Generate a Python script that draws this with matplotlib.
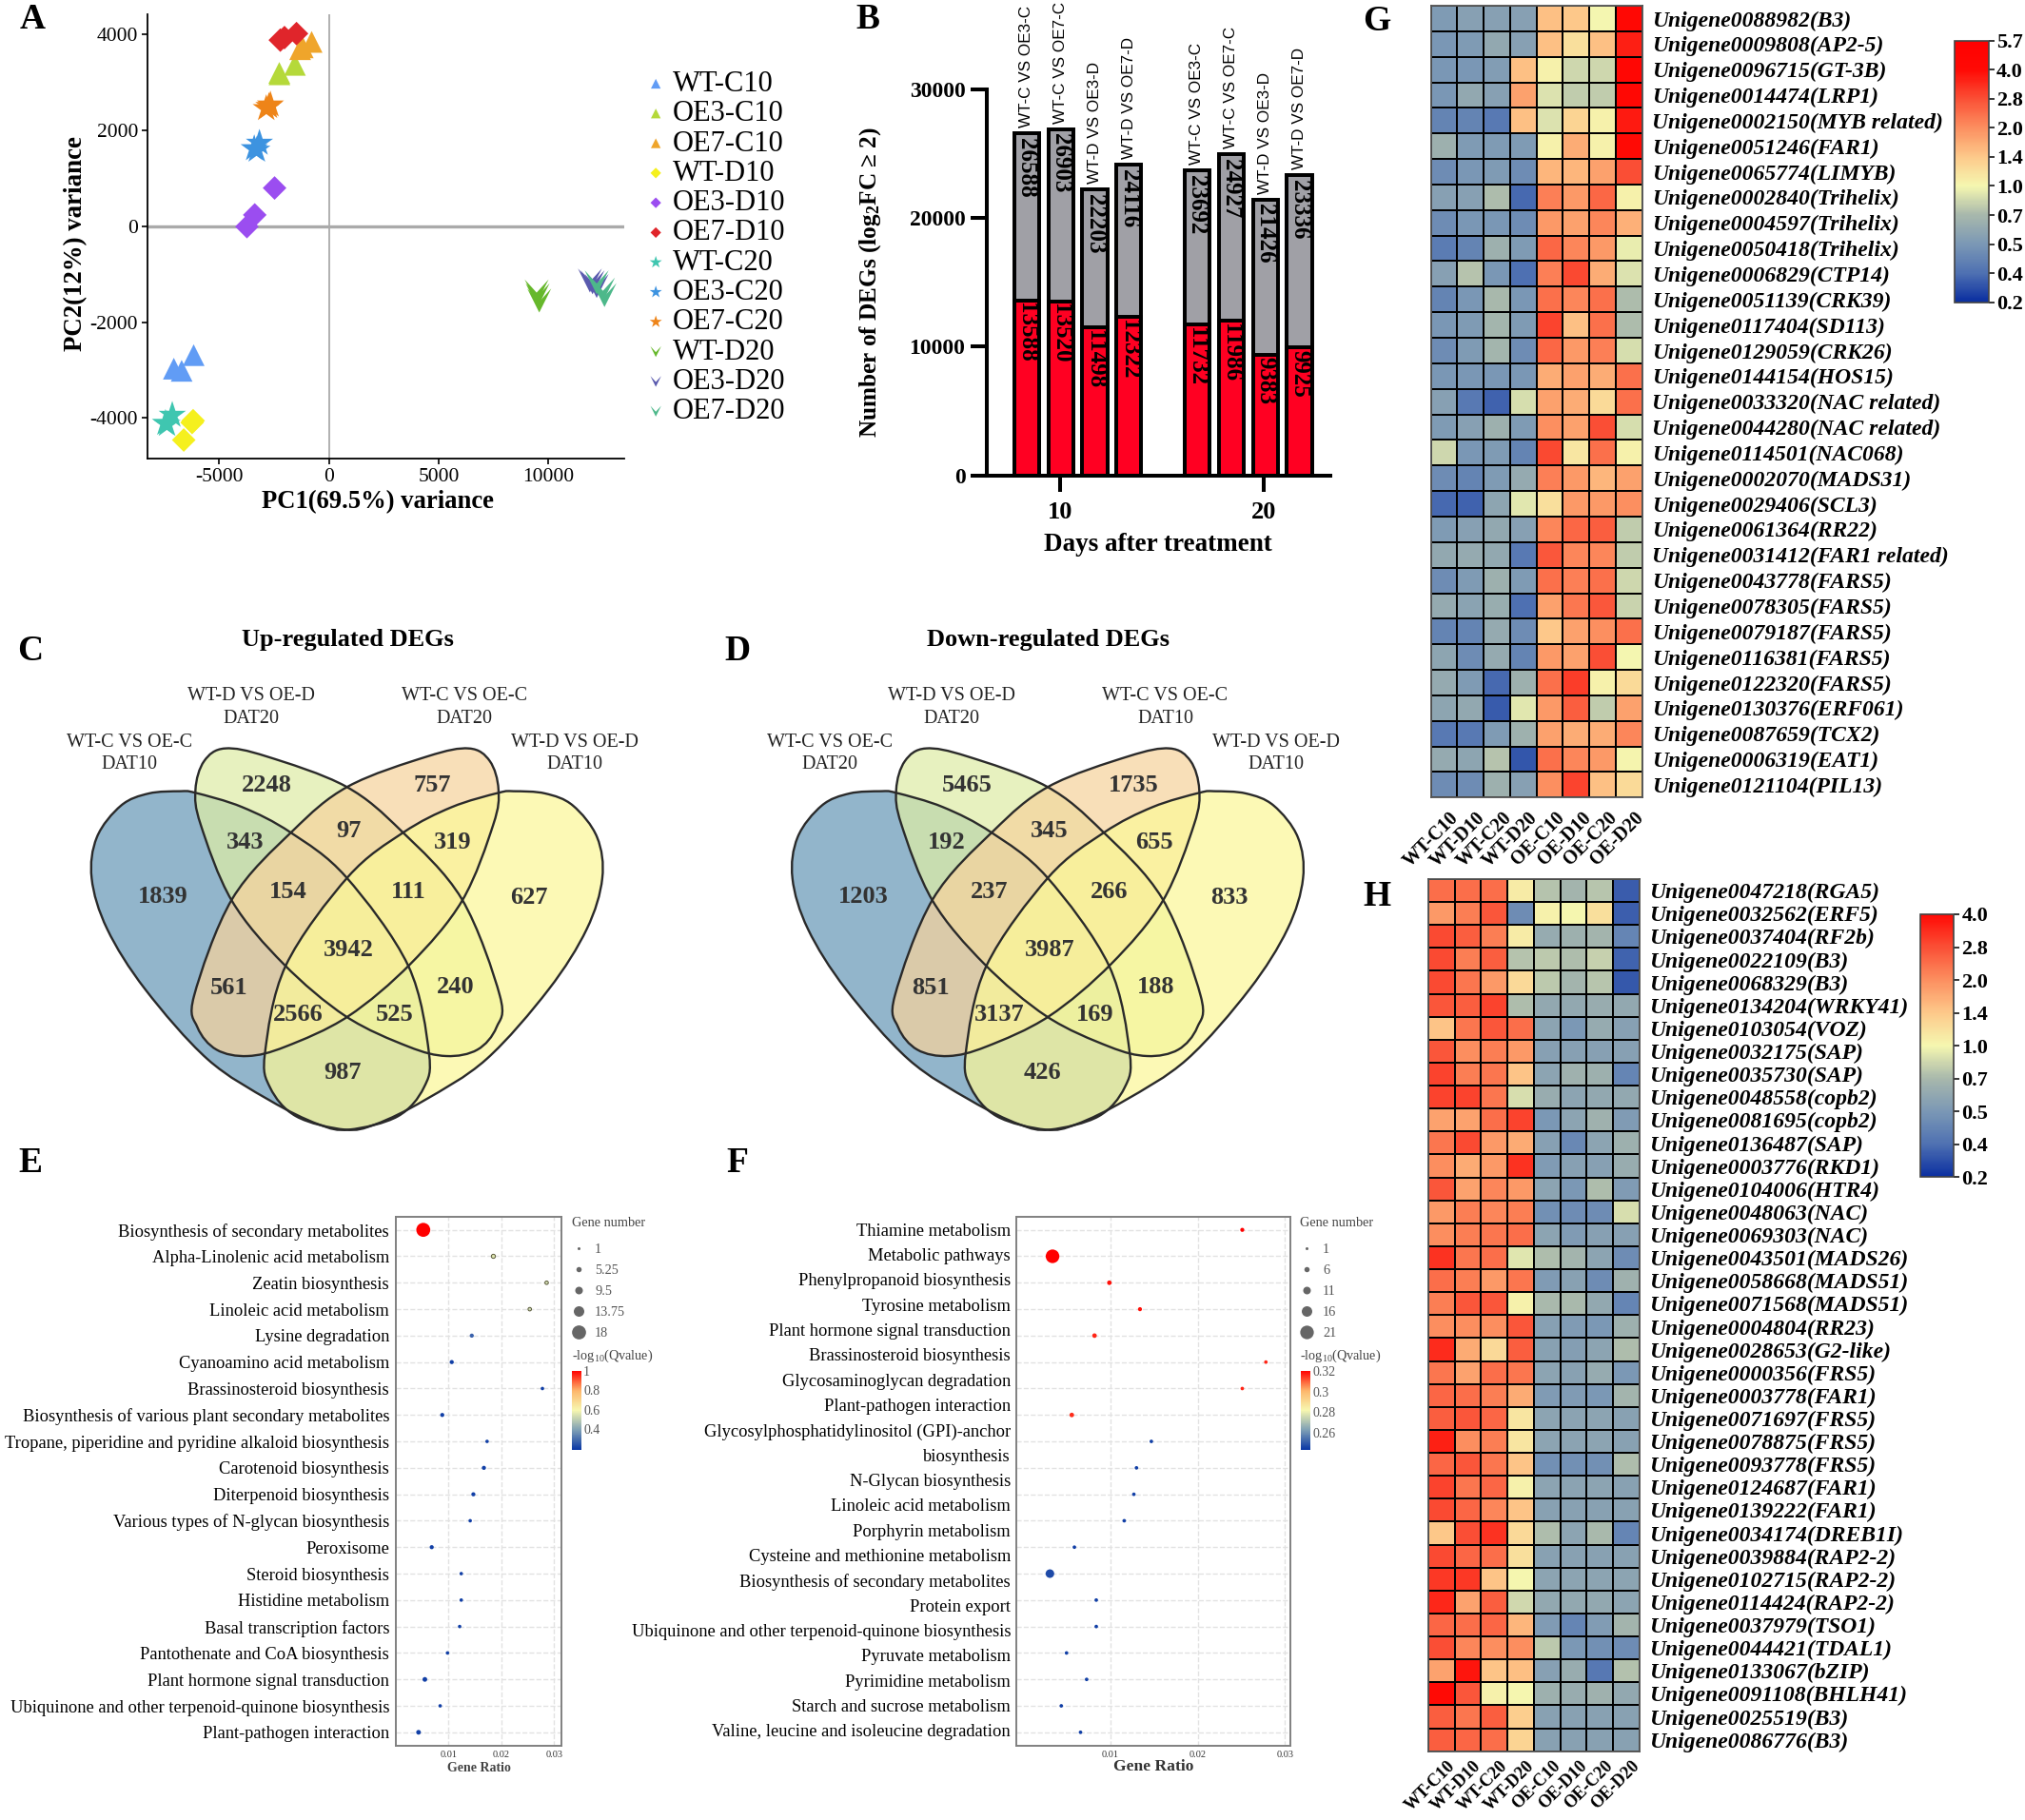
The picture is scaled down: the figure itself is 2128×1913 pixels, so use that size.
#!/usr/bin/env python3
# Multi-panel figure: PCA, DEG bars, Venn diagrams, KEGG bubbles, heatmaps

import numpy as np
import matplotlib
matplotlib.use("Agg")
import matplotlib.pyplot as plt
from matplotlib.colors import LinearSegmentedColormap, FuncNorm, Normalize
from matplotlib.cm import ScalarMappable
from matplotlib.lines import Line2D
from matplotlib.path import Path
from matplotlib.patches import PathPatch

plt.rcParams['font.family'] = ['Liberation Serif', 'DejaVu Sans']
plt.rcParams['mathtext.fontset'] = 'custom'
plt.rcParams['mathtext.rm'] = 'Liberation Serif'
plt.rcParams['mathtext.it'] = 'Liberation Serif:italic'
plt.rcParams['mathtext.bf'] = 'Liberation Serif:bold'
plt.rcParams['axes.unicode_minus'] = False

W, H = 2128, 1913

############################################
# Data
############################################

# Panel A, PCA
pca_names = ['WT-C10', 'OE3-C10', 'OE7-C10', 'WT-D10', 'OE3-D10', 'OE7-D10',
             'WT-C20', 'OE3-C20', 'OE7-C20', 'WT-D20', 'OE3-D20', 'OE7-D20']
pca_x = [[-6154, -7057, -6700], [-1544, -2257, -2250], [-784, -1307, -1188],
         [-6178, -6605, -6225], [-2471, -3374, -3730], [-1473, -2020, -2210],
         [-7128, -7437, -7366], [-3160, -3398, -3279], [-2661, -2851, -2730],
         [9456, 9575, 9500], [11880, 12189, 12000], [12189, 12545, 12474]]
pca_y = [[-2690, -2972, -3017], [3367, 3200, 3170], [3846, 3694, 3732],
         [-4058, -4461, -4096], [798, 236, -8], [4020, 3937, 3884],
         [-3944, -4112, -4134], [1733, 1619, 1588], [2531, 2455, 2500],
         [-1360, -1550, -1440], [-1132, -1246, -1170], [-1170, -1436, -1322]]

# Panel B, DEG counts
deg_labels = ['WT-C VS OE3-C', 'WT-C VS OE7-C', 'WT-D VS OE3-D', 'WT-D VS OE7-D'] * 2
deg_total = [26588, 26903, 22203, 24116, 23692, 24927, 21426, 23336]
deg_up = [13588, 13520, 11498, 12322, 11732, 11986, 9383, 9925]

# Panels C and D, Venn counts, region order is the same in both
venn_up = [2248, 757, 343, 97, 319, 1839, 154, 111, 627, 3942, 561, 240, 2566, 525, 987]
venn_down = [5465, 1735, 192, 345, 655, 1203, 237, 266, 833, 3987, 851, 188, 3137, 169, 426]

# Panel E, KEGG bubbles
e_terms = ['Biosynthesis of secondary metabolites', 'Alpha-Linolenic acid metabolism',
           'Zeatin biosynthesis', 'Linoleic acid metabolism', 'Lysine degradation',
           'Cyanoamino acid metabolism', 'Brassinosteroid biosynthesis',
           'Biosynthesis of various plant secondary metabolites',
           'Tropane, piperidine and pyridine alkaloid biosynthesis',
           'Carotenoid biosynthesis', 'Diterpenoid biosynthesis',
           'Various types of N-glycan biosynthesis', 'Peroxisome', 'Steroid biosynthesis',
           'Histidine metabolism', 'Basal transcription factors',
           'Pantothenate and CoA biosynthesis', 'Plant hormone signal transduction',
           'Ubiquinone and other terpenoid-quinone biosynthesis', 'Plant-pathogen interaction']
e_ratio = [0.0052, 0.0185, 0.0286, 0.0254, 0.0144, 0.0106, 0.0278, 0.0088, 0.0173, 0.0167,
           0.0147, 0.0141, 0.0068, 0.0124, 0.0124, 0.0121, 0.0098, 0.0055, 0.0084, 0.0043]
e_count = [18, 2, 1, 1, 2, 2, 1, 2, 1, 2, 2, 1, 2, 1, 1, 1, 1, 3, 1, 3]
e_q = [1.0, 0.55, 0.53, 0.52, 0.27, 0.2, 0.2, 0.2, 0.2, 0.2,
       0.2, 0.2, 0.2, 0.2, 0.2, 0.2, 0.2, 0.2, 0.2, 0.2]
e_size_keys = ['1', '5.25', '9.5', '13.75', '18']
e_q_ticks = [0.4, 0.6, 0.8, 1.0]
e_q_ticklabels = ['0.4', '0.6', '0.8', '1']

# Panel F, KEGG bubbles
f_rows = ['Thiamine metabolism', 'Metabolic pathways', 'Phenylpropanoid biosynthesis',
          'Tyrosine metabolism', 'Plant hormone signal transduction',
          'Brassinosteroid biosynthesis', 'Glycosaminoglycan degradation',
          'Plant-pathogen interaction', 'Glycosylphosphatidylinositol (GPI)-anchor',
          'biosynthesis', 'N-Glycan biosynthesis', 'Linoleic acid metabolism',
          'Porphyrin metabolism', 'Cysteine and methionine metabolism',
          'Biosynthesis of secondary metabolites', 'Protein export',
          'Ubiquinone and other terpenoid-quinone biosynthesis', 'Pyruvate metabolism',
          'Pyrimidine metabolism', 'Starch and sucrose metabolism',
          'Valine, leucine and isoleucine degradation']
f_ratio = [0.0251, 0.0034, 0.0099, 0.0134, 0.0082, 0.0278, 0.0251, 0.0056, 0.0147, 0.0130,
           0.0127, 0.0116, 0.0059, 0.0031, 0.0084, 0.0084, 0.0050, 0.0073, 0.0044, 0.0066]
f_count = [2, 21, 3, 2, 3, 1, 1, 3, 1, 1, 1, 1, 1, 11, 1, 1, 1, 1, 1, 1]
f_q = [0.32, 0.32, 0.318, 0.318, 0.316, 0.316, 0.316, 0.315, 0.245, 0.245,
       0.245, 0.245, 0.245, 0.247, 0.245, 0.245, 0.245, 0.245, 0.245, 0.245]
f_size_keys = ['1', '6', '11', '16', '21']
f_q_ticks = [0.26, 0.28, 0.30, 0.32]
f_q_ticklabels = ['0.26', '0.28', '0.3', '0.32']

# Panels G and H, heatmaps
heat_cols_g = ['WT-C10', 'WT-D10', 'WT-C20', 'WT-D20', 'OE-C10', 'OE-D10', 'OE-C20', 'OE-D20']
heat_cols_h = heat_cols_g
g_genes = ['Unigene0088982(B3)', 'Unigene0009808(AP2-5)', 'Unigene0096715(GT-3B)',
           'Unigene0014474(LRP1)', 'Unigene0002150(MYB related)', 'Unigene0051246(FAR1)',
           'Unigene0065774(LIMYB)', 'Unigene0002840(Trihelix)', 'Unigene0004597(Trihelix)',
           'Unigene0050418(Trihelix)', 'Unigene0006829(CTP14)', 'Unigene0051139(CRK39)',
           'Unigene0117404(SD113)', 'Unigene0129059(CRK26)', 'Unigene0144154(HOS15)',
           'Unigene0033320(NAC related)', 'Unigene0044280(NAC related)', 'Unigene0114501(NAC068)',
           'Unigene0002070(MADS31)', 'Unigene0029406(SCL3)', 'Unigene0061364(RR22)',
           'Unigene0031412(FAR1 related)', 'Unigene0043778(FARS5)', 'Unigene0078305(FARS5)',
           'Unigene0079187(FARS5)', 'Unigene0116381(FARS5)', 'Unigene0122320(FARS5)',
           'Unigene0130376(ERF061)', 'Unigene0087659(TCX2)', 'Unigene0006319(EAT1)',
           'Unigene0121104(PIL13)']
g_values = [
    [.52, .55, .55, .55, 1.5, 1.4, 1.0, 4.3],
    [.50, .52, .60, .55, 1.5, 1.2, 1.5, 3.6],
    [.50, .50, .53, 1.5, 1.05, .85, .85, 4.5],
    [.50, .60, .55, 1.8, .90, .80, .80, 4.3],
    [.45, .45, .42, 1.5, .90, 1.3, 1.05, 3.7],
    [.65, .52, .52, .52, 1.05, 1.7, 1.05, 4.0],
    [.47, .50, .52, .47, 1.6, 1.6, 1.8, 2.8],
    [.55, .55, .72, .38, 2.2, 1.9, 2.5, 1.05],
    [.47, .50, .50, .47, 1.9, 1.8, 2.1, 1.65],
    [.43, .45, .65, .52, 2.5, 2.1, 1.9, .95],
    [.55, .75, .50, .40, 2.2, 2.9, 1.7, .90],
    [.45, .50, .70, .50, 2.4, 2.1, 2.4, .72],
    [.50, .52, .68, .52, 3.0, 1.5, 2.4, .72],
    [.47, .52, .68, .47, 2.5, 1.9, 2.2, .88],
    [.50, .50, .50, .50, 1.7, 1.8, 1.7, 2.4],
    [.55, .42, .36, .88, 1.8, 1.7, 1.25, 2.4],
    [.52, .55, .65, .52, 2.0, 1.8, 2.8, .88],
    [.85, .50, .52, .45, 2.9, 1.15, 2.4, 1.05],
    [.47, .45, .52, .62, 2.2, 1.9, 1.6, 1.8],
    [.38, .36, .58, .92, 1.2, 1.9, 1.9, 2.0],
    [.52, .55, .60, .55, 2.1, 2.5, 2.6, .80],
    [.60, .62, .60, .42, 2.7, 2.1, 2.1, .80],
    [.47, .52, .65, .52, 2.4, 2.2, 2.4, .85],
    [.62, .57, .63, .40, 1.8, 2.3, 2.7, .83],
    [.45, .45, .62, .47, 1.4, 1.8, 2.0, 2.4],
    [.58, .47, .62, .45, 1.9, 1.8, 2.8, 1.0],
    [.62, .52, .38, .65, 2.4, 3.1, 1.05, 1.25],
    [.58, .60, .34, .92, 1.9, 2.6, .80, 1.8],
    [.42, .42, .52, .66, 1.8, 1.7, 1.7, 2.1],
    [.62, .58, .75, .32, 2.4, 2.1, 1.9, 1.03],
    [.47, .47, .65, .55, 2.0, 3.0, 1.5, 1.25],
]
h_genes = ['Unigene0047218(RGA5)', 'Unigene0032562(ERF5)', 'Unigene0037404(RF2b)',
           'Unigene0022109(B3)', 'Unigene0068329(B3)', 'Unigene0134204(WRKY41)',
           'Unigene0103054(VOZ)', 'Unigene0032175(SAP)', 'Unigene0035730(SAP)',
           'Unigene0048558(copb2)', 'Unigene0081695(copb2)', 'Unigene0136487(SAP)',
           'Unigene0003776(RKD1)', 'Unigene0104006(HTR4)', 'Unigene0048063(NAC)',
           'Unigene0069303(NAC)', 'Unigene0043501(MADS26)', 'Unigene0058668(MADS51)',
           'Unigene0071568(MADS51)', 'Unigene0004804(RR23)', 'Unigene0028653(G2-like)',
           'Unigene0000356(FRS5)', 'Unigene0003778(FAR1)', 'Unigene0071697(FRS5)',
           'Unigene0078875(FRS5)', 'Unigene0093778(FRS5)', 'Unigene0124687(FAR1)',
           'Unigene0139222(FAR1)', 'Unigene0034174(DREB1I)', 'Unigene0039884(RAP2-2)',
           'Unigene0102715(RAP2-2)', 'Unigene0114424(RAP2-2)', 'Unigene0037979(TSO1)',
           'Unigene0044421(TDAL1)', 'Unigene0133067(bZIP)', 'Unigene0091108(BHLH41)',
           'Unigene0025519(B3)', 'Unigene0086776(B3)']
h_values = [
    [2.4, 2.4, 2.4, 1.1, .75, .68, .76, .34],
    [1.9, 2.2, 2.7, .47, 1.05, 1.0, 1.2, .35],
    [2.9, 2.6, 2.2, 1.1, .62, .65, .68, .45],
    [2.9, 2.2, 2.6, .75, .78, .72, .82, .36],
    [2.9, 2.3, 1.9, 1.25, .78, .68, .76, .33],
    [2.7, 2.6, 3.0, .72, .60, .60, .63, .60],
    [1.45, 2.3, 2.7, 2.4, .58, .50, .62, .55],
    [2.7, 2.0, 2.2, 1.9, .55, .55, .55, .55],
    [3.0, 2.2, 2.3, 1.45, .58, .66, .65, .45],
    [3.0, 3.0, 2.3, .88, .63, .58, .60, .60],
    [1.8, 1.8, 2.4, 3.0, .50, .58, .66, .52],
    [2.3, 2.9, 1.9, 1.7, .55, .46, .58, .65],
    [2.0, 1.7, 1.9, 3.3, .52, .55, .55, .63],
    [2.7, 1.8, 2.1, 1.9, .58, .50, .72, .52],
    [1.9, 2.2, 2.1, 2.2, .48, .47, .47, .88],
    [2.0, 2.2, 2.3, 2.4, .58, .52, .55, .55],
    [3.3, 2.3, 2.4, .92, .72, .68, .58, .47],
    [2.4, 2.2, 1.9, 2.3, .52, .56, .47, .66],
    [2.2, 2.7, 2.7, 1.05, .70, .70, .60, .45],
    [2.0, 2.0, 2.0, 2.7, .55, .52, .50, .65],
    [3.4, 1.7, 1.25, 2.6, .56, .54, .58, .72],
    [2.3, 1.8, 2.4, 2.3, .58, .56, .62, .50],
    [2.5, 2.4, 2.2, 1.7, .52, .52, .50, .68],
    [2.6, 2.7, 2.5, 1.15, .58, .57, .58, .56],
    [3.6, 2.0, 2.2, 1.15, .58, .57, .58, .56],
    [2.5, 2.7, 2.3, 1.45, .48, .48, .48, .72],
    [3.0, 2.3, 2.5, 1.05, .58, .57, .58, .56],
    [2.9, 2.5, 2.1, 1.45, .56, .56, .56, .56],
    [1.4, 2.8, 3.3, 1.25, .72, .58, .70, .45],
    [2.9, 2.5, 2.4, 1.2, .56, .56, .56, .56],
    [3.2, 3.2, 1.45, 1.0, .58, .58, .58, .58],
    [3.5, 1.8, 2.6, .85, .60, .60, .60, .58],
    [2.5, 2.4, 2.5, 1.6, .52, .45, .53, .68],
    [2.8, 2.1, 2.0, 2.0, .78, .50, .48, .47],
    [1.8, 3.8, 1.45, 1.5, .55, .63, .42, .74],
    [4.0, 2.7, 1.05, 1.0, .65, .63, .66, .60],
    [2.6, 2.3, 2.6, 1.35, .56, .56, .56, .56],
    [2.6, 2.5, 2.4, 1.3, .56, .56, .56, .56],
]
g_ticks = [0.2, 0.4, 0.5, 0.7, 1.0, 1.4, 2.0, 2.8, 4.0, 5.7]
h_ticks = [0.2, 0.4, 0.5, 0.7, 1.0, 1.4, 2.0, 2.8, 4.0]

############################################
# Layout helpers, all in pixels of the final image
############################################
fig = plt.figure(figsize=(W / 100, H / 100), dpi=100)


def add_box(left, top, right, bottom):
    return fig.add_axes([left / W, 1 - bottom / H, (right - left) / W, (bottom - top) / H])


def fig_xy(x, y):
    return (x / W, 1 - y / H)


# Overlay for panel letters, Venn diagrams and loose text
ov = fig.add_axes([0, 0, 1, 1], zorder=5)
ov.set_xlim(0, W)
ov.set_ylim(H, 0)
ov.axis('off')
ov.patch.set_alpha(0)

for letter, lx, ly in [('A', 34, 20), ('B', 912, 20), ('G', 1447, 23), ('C', 32, 684),
                       ('D', 775, 684), ('E', 32, 1222), ('F', 775, 1222), ('H', 1447, 942)]:
    ov.text(lx, ly, letter, fontsize=27, fontweight='bold', ha='center', va='center')

############################################
# A, PCA scatter
############################################
ax_a = add_box(154.7, 15, 655.5, 482)
chevron = Path([(-1, 1), (0, -1), (1, 1), (0, -0.1), (-1, 1)], closed=True)
pca_colors = ['#619CF5', '#B5D93A', '#EFA52B', '#F5F01E', '#9B4DF0', '#E0252B',
              '#3FC6B0', '#3D93E0', '#EE8418', '#66B82B', '#5A5AAE', '#4DB88A']
pca_markers = ['^'] * 3 + ['D'] * 3 + ['*'] * 3 + [chevron] * 3
pca_sizes = [270] * 3 + [160] * 3 + [470] * 3 + [330] * 3
ax_a.axhline(0, color='#aaaaaa', lw=2.4, zorder=1)
ax_a.axvline(0, color='#aaaaaa', lw=1.3, zorder=1)
for i, name in enumerate(pca_names):
    ax_a.scatter(pca_x[i], pca_y[i], marker=pca_markers[i], s=pca_sizes[i], c=pca_colors[i],
                 edgecolors='none', label=name, zorder=3)
ax_a.set_xlim(-8268, 13422)
ax_a.set_ylim(-4848, 4423)
ax_a.set_xticks([-5000, 0, 5000, 10000])
ax_a.set_yticks([-4000, -2000, 0, 2000, 4000])
ax_a.tick_params(labelsize=15.5, length=4, width=1.2, pad=3)
for side in ['top', 'right']:
    ax_a.spines[side].set_visible(False)
for side in ['left', 'bottom']:
    ax_a.spines[side].set_linewidth(1.3)
ax_a.set_xlabel('PC1(69.5%) variance', fontsize=19.2, fontweight='bold', labelpad=1)
ax_a.xaxis.set_label_coords(0.484, -0.07)
ax_a.set_ylabel('PC2(12%) variance', fontsize=19.4, fontweight='bold', labelpad=2, y=0.483)
ax_a.legend(loc='upper left', bbox_to_anchor=fig_xy(680, 74), bbox_transform=fig.transFigure,
            frameon=False, fontsize=22, markerscale=0.45, labelspacing=0.075,
            handlelength=0.6, handletextpad=0.28, borderpad=0, borderaxespad=0)

############################################
# B, stacked DEG bars
############################################
ax_b = add_box(1036.6, 93.7, 1397.7, 499.6)
bar_x = [0, 1, 2, 3, 5, 6, 7, 8]
ax_b.bar(bar_x, deg_total, width=0.73, color='#a0a0a6', edgecolor='black', lw=2.85)
ax_b.bar(bar_x, deg_up, width=0.73, color='#ff0022', edgecolor='black', lw=2.85)
for x, label, tot, up in zip(bar_x, deg_labels, deg_total, deg_up):
    ax_b.text(x, tot + 450, label, rotation=90, ha='center', va='bottom',
              fontsize=12.3, family='Liberation Sans')
    ax_b.text(x, tot - 350, str(tot), rotation=270, ha='center', va='top',
              fontsize=18, fontweight='bold')
    ax_b.text(x, up - 200, str(up), rotation=270, ha='center', va='top',
              fontsize=18, fontweight='bold')
ax_b.set_xlim(-1.18, 8.9)
ax_b.set_ylim(0, 30000)
ax_b.set_yticks([0, 10000, 20000, 30000])
ax_b.set_xticks([0.97, 6.95])
ax_b.set_xticklabels(['10', '20'])
ax_b.tick_params(length=12, width=2.9, labelsize=17, pad=4)
for lab in ax_b.get_xticklabels() + ax_b.get_yticklabels():
    lab.set_fontweight('bold')
ax_b.tick_params(axis='x', labelsize=19, pad=8)
for side in ['top', 'right']:
    ax_b.spines[side].set_visible(False)
for side in ['left', 'bottom']:
    ax_b.spines[side].set_linewidth(2.9)
ax_b.set_xlabel('Days after treatment', fontsize=19.5, fontweight='bold')
ax_b.xaxis.set_label_coords(0.5, -0.15)
ax_b.set_ylabel(r'Number of DEGs (log$_{\mathbf{2}}$FC ≥ 2)', fontsize=18.2, fontweight='bold')
ax_b.yaxis.set_label_coords(-0.3, 0.5)

############################################
# C and D, Venn diagrams
############################################
ZX, ZY = 2.178, 2.8
# Outlines are in their own crop scale, the mirror axis gives the other two lobes
venn_blue = [(300, 155), (345, 160), (480, 205), (620, 285), (780, 425), (960, 705), (1020, 980),
             (1005, 1090), (930, 1180), (790, 1222), (700, 1205), (560, 1130), (380, 1000),
             (200, 780), (90, 590), (45, 430), (60, 300), (130, 200), (210, 162)]
venn_green = [(430, 20), (550, 45), (780, 140), (940, 280), (1115, 495), (1225, 800), (1215, 900),
              (1160, 970), (1070, 990), (960, 960), (780, 865), (600, 700), (450, 500),
              (360, 260), (345, 150), (370, 60)]
venn_fill = [(146 / 255, 181 / 255, 203 / 255, 1.0), (222 / 255, 237 / 255, 167 / 255, 0.725),
             (246 / 255, 211 / 255, 157 / 255, 0.725), (252 / 255, 248 / 255, 153 / 255, 0.725)]
venn_number_pos = [(610, 520), (990, 520), (562, 688), (798, 655), (1037, 688), (372, 847),
                   (660, 832), (935, 832), (1210, 850), (798, 1005), (525, 1115), (1042, 1112),
                   (683, 1195), (903, 1195), (783, 1365)]


def closed_curve(points):
    # Catmull-Rom through the points, written out as cubic Beziers
    p = np.array(points, dtype=float)
    n = len(p)
    verts = [p[0]]
    codes = [Path.MOVETO]
    for i in range(n):
        p0, p1, p2, p3 = p[i - 1], p[i], p[(i + 1) % n], p[(i + 2) % n]
        verts += [p1 + (p2 - p0) / 6, p2 - (p3 - p1) / 6, p2]
        codes += [Path.CURVE4] * 3
    return Path(verts, codes)


def draw_venn(x0, counts, title, labels):
    to_px = lambda pts: [(x0 + a / ZX, 640 + b / ZY) for a, b in pts]
    shape_px = lambda pts: [(x0 + 80 + a / 2.751, 780 + b / 3) for a, b in pts]
    mirror = lambda pts: [(1566 - a, b) for a, b in pts]
    shapes = [venn_blue, venn_green, mirror(venn_green), mirror(venn_blue)]
    for pts, col in zip(shapes, venn_fill):
        ov.add_patch(PathPatch(closed_curve(shape_px(pts)), facecolor=col, edgecolor='none'))
    for pts in shapes:
        ov.add_patch(PathPatch(closed_curve(shape_px(pts)), facecolor='none',
                               edgecolor='#2a2a2a', lw=1.7))
    for (a, b), val in zip(to_px(venn_number_pos), counts):
        ov.text(a, b, str(val), fontsize=19, fontweight='bold', color='#333333',
                ha='center', va='center')
    ov.text(x0 + 795 / ZX, 640 + 90 / ZY, title, fontsize=19, fontweight='bold',
            ha='center', va='center')
    for (a, b), txt in zip(to_px([(296, 425), (575, 290), (1063, 290), (1316, 425)]), labels):
        ov.text(a, b, txt, fontsize=14.5, ha='center', va='center', color='#222222',
                linespacing=1.32)


draw_venn(0, venn_up, 'Up-regulated DEGs',
          ['WT-C VS OE-C\nDAT10', 'WT-D VS OE-D\nDAT20', 'WT-C VS OE-C\nDAT20', 'WT-D VS OE-D\nDAT10'])
draw_venn(736.4, venn_down, 'Down-regulated DEGs',
          ['WT-C VS OE-C\nDAT20', 'WT-D VS OE-D\nDAT20', 'WT-C VS OE-C\nDAT10', 'WT-D VS OE-D\nDAT10'])

############################################
# E and F, bubble plots
############################################
q_cmap = LinearSegmentedColormap.from_list(
    'q', ['#0a38a5', '#7fa0b5', '#f7f7b0', '#fdb56a', '#ff0000'])


def bubble(box, ratio, count, q, q_lim, xlim, d0, d1):
    ax = add_box(*box)
    ypos = np.arange(len(ratio))
    sizes = [((d0 + d1 * c) * 0.72) ** 2 for c in count]
    norm = Normalize(*q_lim)
    mid = [q_lim[0] + 0.3 * (q_lim[1] - q_lim[0]) < v < q_lim[0] + 0.7 * (q_lim[1] - q_lim[0]) for v in q]
    edges = ['#5a5a3a' if m else 'none' for m in mid]
    ax.scatter(ratio, ypos, s=sizes, c=q, cmap=q_cmap, norm=norm, edgecolors=edges,
               linewidths=0.7, zorder=3)
    ax.set_xlim(*xlim)
    ax.set_ylim(len(ratio) - 0.5, -0.5)
    ax.set_xticks([0.01, 0.02, 0.03])
    ax.set_xticklabels(['0.01', '0.02', '0.03'])
    ax.set_yticks(ypos)
    ax.grid(True, ls='--', color='#e2e2e2', lw=1.0, zorder=0)
    ax.tick_params(axis='both', length=0)
    ax.tick_params(axis='x', labelsize=7.4, colors='#333333', pad=4)
    for s in ax.spines.values():
        s.set_color('#808080')
        s.set_linewidth(1.4)
    return ax, norm


def bubble_keys(ax, x_left, keys, key_d, title_q, x_cbar, ticks, ticklabels, norm):
    handles = [Line2D([], [], ls='none', marker='o', ms=d * 0.72, color='#666666',
                      markeredgecolor='none') for d in key_d]
    leg = ax.legend(handles, keys, title='Gene number', loc='upper left',
                    bbox_to_anchor=fig_xy(x_left, 1279), bbox_transform=fig.transFigure,
                    frameon=False, fontsize=10.3, title_fontsize=10.3, labelspacing=0.62,
                    handlelength=1.0, handletextpad=0.68, borderpad=0, borderaxespad=0,
                    alignment='left', labelcolor='#555555')
    leg.get_title().set_color('#444444')
    leg._legend_box.sep = 11
    ov.text(x_left, 1425.7, title_q, fontsize=10.3, color='#444444', ha='left', va='center')
    cax = add_box(x_cbar[0], 1440.8, x_cbar[1], 1523.7)
    cb = fig.colorbar(ScalarMappable(norm, q_cmap), cax=cax, ticks=ticks)
    cb.ax.set_yticklabels(ticklabels)
    cb.ax.tick_params(length=0, labelsize=10, colors='#555555', pad=1.5)
    cb.outline.set_visible(False)


ax_e, norm_e = bubble((416, 1278.8, 590.5, 1834.7), e_ratio, e_count, e_q, (0.187, 1.0),
                      (0.0, 0.0315), 3.0, 0.65)
ax_e.set_yticklabels(e_terms, fontsize=13.3)
ax_e.tick_params(axis='y', pad=5)
ax_e.set_xlabel('Gene Ratio', fontsize=10, fontweight='bold', color='#444444', labelpad=2)
bubble_keys(ax_e, 601, e_size_keys, [3, 5.5, 8, 11, 14.7], '-log$_{10}$(Qvalue)', (601, 611),
            e_q_ticks, e_q_ticklabels, norm_e)

ax_f, norm_f = bubble((1068.4, 1278.8, 1356, 1834.7), f_ratio, f_count, f_q, (0.2436, 0.32),
                      (-0.0007, 0.0306), 3.2, 0.53)
ax_f.set_yticklabels([])
for i, term in enumerate(f_rows):
    ov.text(1062, 1242 + (128 + i * 64.5) / 2.45, term, fontsize=13.3, ha='right', va='center')
ax_f.set_xlabel('Gene Ratio', fontsize=12.6, fontweight='bold', color='#333333', labelpad=0)
bubble_keys(ax_f, 1366, f_size_keys, [3, 5.5, 8, 11, 14.3], '-log$_{10}$(Qvalue)', (1366.8, 1377.5),
            f_q_ticks, f_q_ticklabels, norm_f)

############################################
# G and H, heatmaps
############################################
stop_colors = ['#0a2ea0', '#4f71b2', '#7b98b5', '#a8b8ac', '#f5f7b0',
               '#fdc98a', '#fc8f60', '#fa5036', '#ff0a05', '#ff0000']


def heatmap(box, cbox, values, genes, cols, ticks, col_size, col_pad):
    ax = add_box(*box)
    stops = stop_colors[:len(ticks)]
    cmap = LinearSegmentedColormap.from_list('expr', stops)
    pos = np.linspace(0, 1, len(ticks))
    norm = FuncNorm((lambda v: np.interp(v, ticks, pos), lambda p: np.interp(p, pos, ticks)),
                    vmin=ticks[0], vmax=ticks[-1])
    arr = np.array(values)
    mesh = ax.pcolormesh(arr, cmap=cmap, norm=norm, edgecolors='black', linewidth=1.3)
    ax.set_ylim(len(genes), 0)
    ax.set_xlim(0, len(cols))
    ax.yaxis.tick_right()
    ax.set_yticks(np.arange(len(genes)) + 0.5)
    ax.set_yticklabels(genes, fontsize=17, fontweight='bold', style='italic')
    ax.set_xticks(np.arange(len(cols)) + 0.7)
    ax.set_xticklabels(cols, fontsize=col_size, fontweight='bold', rotation=45, ha='right',
                       rotation_mode='anchor')
    ax.tick_params(axis='both', length=0)
    ax.tick_params(axis='y', pad=7.5)
    ax.tick_params(axis='x', pad=col_pad)
    for s in ax.spines.values():
        s.set_color('#555555')
        s.set_linewidth(1.3)
    cax = add_box(*cbox)
    cb = fig.colorbar(mesh, cax=cax, ticks=ticks, format='%.1f')
    cb.ax.tick_params(length=4, width=1.1, labelsize=16, pad=2)
    for lab in cb.ax.get_yticklabels():
        lab.set_fontweight('bold')
    cb.outline.set_edgecolor('#444444')
    cb.outline.set_linewidth(1.2)
    return ax


heatmap((1503.5, 6, 1725.5, 838.3), (2053.6, 42.7, 2089.5, 317.7), g_values, g_genes,
        heat_cols_g, g_ticks, 14.5, 8)
heatmap((1501, 924, 1722.8, 1840.7), (2017.7, 961, 2053, 1237.3), h_values, h_genes,
        heat_cols_h, h_ticks, 13.2, 5)

fig.savefig('out.png', dpi=100)
